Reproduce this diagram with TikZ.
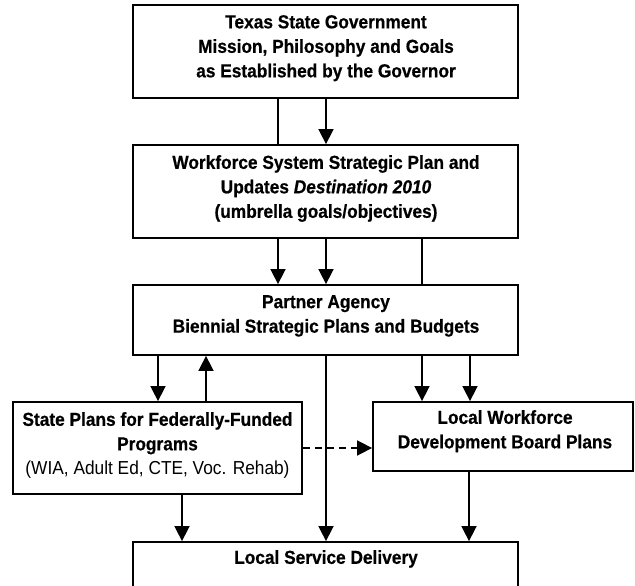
\documentclass[tikz,border=0pt]{standalone}
\usepackage{fontspec}
\setmainfont{Liberation Sans}[FakeStretch=0.92,
  BoldFeatures={FakeBold=0.6}, BoldItalicFeatures={FakeBold=0.6}]
\usetikzlibrary{arrows.meta}
\begin{document}
\begin{tikzpicture}[x=1pt,y=-1pt,
  box/.style={draw=black, line width=1.8pt, rectangle, inner sep=0pt},
  txt/.style={inner sep=0pt, anchor=north, align=center,
    font=\fontsize{18.8}{24.5}\selectfont\bfseries},
  link/.style={line width=1.6pt},
  arr/.style={line width=1.6pt, -{Triangle[length=15pt,width=15pt]}},
  dasharr/.style={line width=1.6pt, dash pattern=on 7pt off 5pt, -{Triangle[length=15pt,width=15pt]}}]
\useasboundingbox (0,0) rectangle (635,586);

% boxes
\node[box, minimum width=385, minimum height=93] (b1) at (325.5,51.5) {};
\node[box, minimum width=385, minimum height=93] (b2) at (325.5,191.5) {};
\node[box, minimum width=385, minimum height=70] (b3) at (325.5,320) {};
\node[box, minimum width=289, minimum height=92] (b4) at (157.5,448) {};
\node[box, minimum width=260, minimum height=69] (b5) at (503,436.5) {};
\node[box, minimum width=385, minimum height=60] (b6) at (325.5,572) {};

% labels
\node[txt] (t1) at (326,15) {Texas State Government\\Mission, Philosophy and Goals\\as Established by the Governor};
\node[txt] (t2) at (326,155) {Workforce System Strategic Plan and\\Updates \textit{Destination 2010}\\(umbrella goals/objectives)};
\node[txt] (t3) at (326,295) {Partner Agency\\Biennial Strategic Plans and Budgets};
\node[txt] (t4) at (157.5,412) {State Plans for Federally-Funded\\Programs\\\textmd{(WIA, Adult Ed, CTE, Voc. Rehab)}};
\node[txt] (t5) at (505,410) {Local Workforce\\Development Board Plans};
\node[txt] (t6) at (326,550) {Local Service Delivery};

% connectors
\draw[link] (b1.south -| 278,0) -- (b2.north -| 278,0);
\draw[arr]  (b1.south -| 326,0) -- (b2.north -| 326,0);

\draw[arr]  (b2.south -| 278,0) -- (b3.north -| 278,0);
\draw[arr]  (b2.south -| 326,0) -- (b3.north -| 326,0);
\draw[link] (b2.south -| 422,0) -- (b3.north -| 422,0);

\draw[arr]  (b3.south -| 158,0) -- (b4.north -| 158,0);
\draw[arr]  (b4.north -| 206,0) -- (b3.south -| 206,0);
\draw[arr]  (b3.south -| 422,0) -- (b5.north -| 422,0);
\draw[arr]  (b3.south -| 470,0) -- (b5.north -| 470,0);
\draw[arr]  (b3.south -| 326,0) -- (b6.north -| 326,0);

\draw[dasharr] (b4.east |- 0,448) -- (b5.west |- 0,448);

\draw[arr]  (b4.south -| 182,0) -- (b6.north -| 182,0);
\draw[arr]  (b5.south -| 469,0) -- (b6.north -| 469,0);
\end{tikzpicture}
\end{document}
